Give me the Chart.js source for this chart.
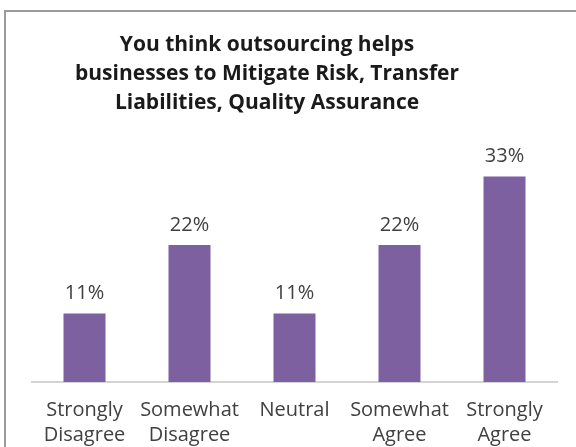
<!DOCTYPE html>
<html>
<head>
<meta charset="utf-8">
<script src="https://cdn.jsdelivr.net/npm/chart.js@4"></script>
<style>
  html, body { margin: 0; padding: 0; background: #ffffff; }
  #wrap { position: relative; width: 576px; height: 447px; overflow: hidden; }
  #frame {
    position: absolute; left: 4px; top: 10px; width: 600px; height: 460px;
    border-top: 2px solid #9a9a9a; border-left: 2px solid #9a9a9a;
    box-sizing: border-box;
  }
  canvas { position: absolute; left: 0; top: 0; }
</style>
</head>
<body>
<div id="wrap">
  <div id="frame"></div>
  <canvas id="chart" width="576" height="447"></canvas>
</div>
<script>
// Survey answers and their share of respondents (%)
const categories = [
  ['Strongly', 'Disagree'],
  ['Somewhat', 'Disagree'],
  ['Neutral'],
  ['Somewhat', 'Agree'],
  ['Strongly', 'Agree']
];
const shares = [11, 22, 11, 22, 33];
const titleLines = [
  'You think outsourcing helps',
  'businesses to Mitigate Risk, Transfer',
  'Liabilities, Quality Assurance'
];

const FONT = '"Open Sans", "Liberation Sans", sans-serif';

// Writes the percentage above each bar and the three-line heading
const annotate = {
  id: 'annotate',
  afterDatasetsDraw(chart) {
    const ctx = chart.ctx;
    const meta = chart.getDatasetMeta(0);
    ctx.save();
    ctx.fillStyle = '#404040';
    ctx.font = '20px ' + FONT;
    ctx.textAlign = 'center';
    ctx.textBaseline = 'bottom';
    meta.data.forEach((bar, i) => {
      ctx.fillText(shares[i] + '%', bar.x, bar.y - 10);
    });
    ctx.fillStyle = '#1a1a1a';
    ctx.font = 'bold 21px ' + FONT;
    ctx.textBaseline = 'middle';
    titleLines.forEach((line, i) => {
      ctx.fillText(line, 267, 45 + i * 29);
    });
    ctx.restore();
  }
};

new Chart(document.getElementById('chart'), {
  type: 'bar',
  data: {
    labels: categories,
    datasets: [{
      data: shares,
      backgroundColor: '#7d60a0',
      borderWidth: 0,
      categoryPercentage: 1.0,
      barPercentage: 0.4
    }]
  },
  options: {
    responsive: false,
    animation: false,
    layout: { padding: { left: 32, right: 19, top: 164, bottom: -17 } },
    plugins: {
      legend: { display: false },
      title: { display: false },
      tooltip: { enabled: false }
    },
    scales: {
      x: {
        grid: { display: false, drawTicks: false },
        border: { display: true, color: '#d4d4d4', width: 2 },
        ticks: {
          color: '#404040',
          padding: 16,
          maxRotation: 0,
          autoSkip: false,
          font: { family: FONT, size: 20, lineHeight: 1.25 }
        }
      },
      y: {
        display: false,
        min: 0,
        max: 35
      }
    }
  },
  plugins: [annotate]
});
</script>
</body>
</html>
